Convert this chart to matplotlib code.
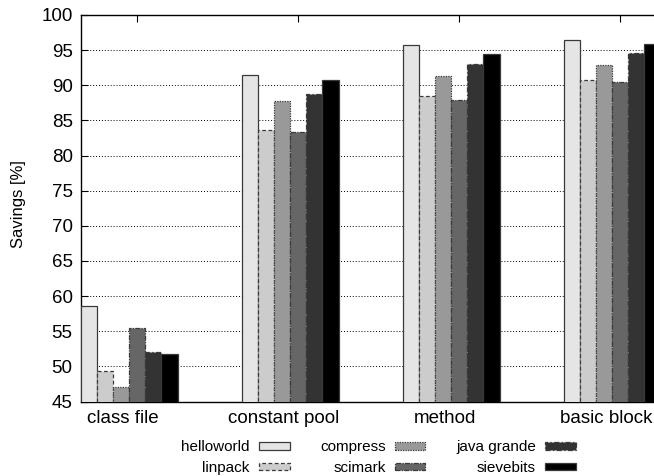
import matplotlib.pyplot as plt
import matplotlib.transforms as mtransforms
import numpy as np

plt.rcParams['font.family'] = ['Liberation Sans', 'DejaVu Sans']

# categories and series
categories = ["class file", "constant pool", "method", "basic block"]
benchmarks = ["helloworld", "linpack", "compress", "scimark", "java grande", "sievebits"]

helloworld = [58.6, 91.5, 95.8, 96.4]
linpack = [49.4, 83.7, 88.5, 90.7]
compress = [47.1, 87.7, 91.3, 92.9]
scimark = [55.4, 83.4, 87.9, 90.5]
java_grande = [52.1, 88.8, 93.0, 94.6]
sievebits = [51.8, 90.7, 94.5, 95.9]

series = [helloworld, linpack, compress, scimark, java_grande, sievebits]
fills = ['#e5e5e5', '#cccccc', '#999999', '#666666', '#333333', '#000000']
styles = ['-', (0, (3, 2)), (0, (1, 1)), (0, (4, 1, 1, 1)), (0, (4, 2, 1, 2)), '-']

fig = plt.figure(figsize=(6.54, 4.76), dpi=100)
# plot area runs past the right edge of the picture, as in the reference
ax = fig.add_axes([81 / 654, 74.5 / 476, 595 / 654, 386.5 / 476])

x = np.arange(len(categories))
width = 0.1
for i, (vals, name) in enumerate(zip(series, benchmarks)):
    ax.bar(x - 0.348 + i * width, vals, width=width, align='edge', bottom=0,
           color=fills[i], edgecolor='#3a3a3a', linewidth=0.9,
           linestyle=styles[i], label=name, zorder=3)

ax.set_ylim(45, 100)
ax.set_xlim(-0.348, 3.348)
ax.set_yticks(np.arange(45, 101, 5))
ax.set_xticks(x)
ax.set_xticklabels(categories)

ax.yaxis.grid(True, linestyle=(0, (1, 2)), color='black', linewidth=0.7, zorder=0)
ax.set_axisbelow(True)

ax.tick_params(axis='y', direction='in', length=5, labelsize=13.5, pad=6, right=True)
ax.tick_params(axis='x', direction='in', length=5, labelsize=13.5, pad=6, top=True)

# category labels sit a little left of their ticks
shift = mtransforms.ScaledTranslation(-0.14, 0, fig.dpi_scale_trans)
for lbl in ax.get_xticklabels():
    lbl.set_transform(lbl.get_transform() + shift)

for s in ax.spines.values():
    s.set_linewidth(1.0)
    s.set_color('black')

ax.set_ylabel("Savings [%]", fontsize=12)
ax.yaxis.set_label_coords(-0.092, 0.51)

leg = ax.legend(ncol=3, loc='upper center', bbox_to_anchor=(0.5, -0.085),
                frameon=False, markerfirst=False, fontsize=11,
                handlelength=2.0, handleheight=0.35, handletextpad=0.6,
                columnspacing=2.0, labelspacing=0.42, borderaxespad=0)

fig.savefig("out.png", dpi=100)
